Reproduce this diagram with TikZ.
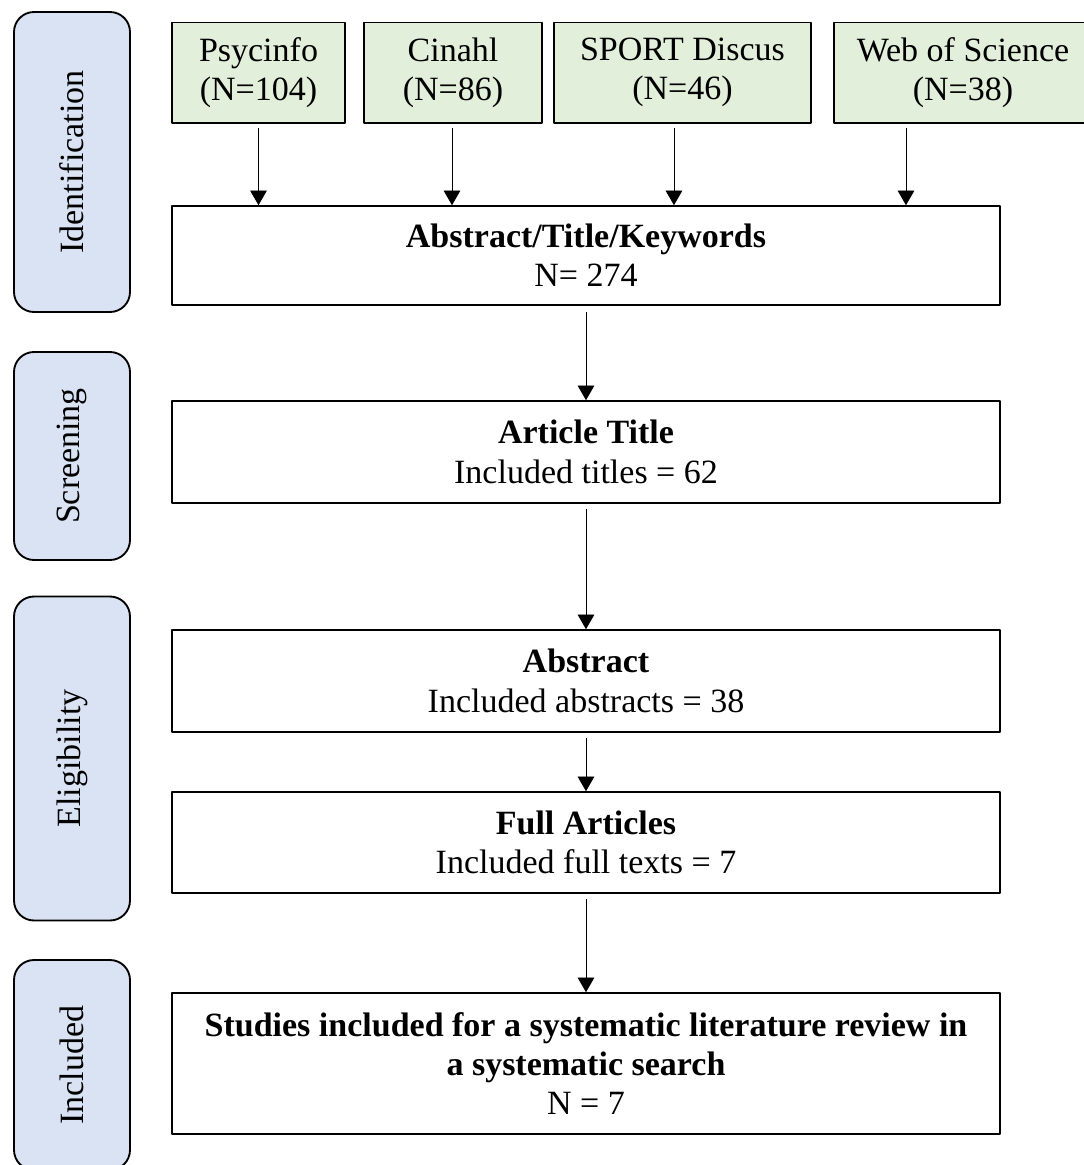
\documentclass[tikz,border=0pt]{standalone}
\usepackage{fontspec}
\setmainfont{Liberation Serif}
\usetikzlibrary{arrows.meta}
\definecolor{stageblue}{HTML}{DAE3F3}
\definecolor{srcgreen}{HTML}{E2EFDA}
\begin{document}
\begin{tikzpicture}[x=0.75pt,y=-0.75pt,line join=round,
	font=\fontsize{25.5}{29.5}\selectfont,
	stage/.style={draw,line width=1.4pt,fill=stageblue,rounded corners=15pt,rotate=90,minimum height=87pt,inner sep=0pt},
	src/.style={draw,line width=1pt,fill=srcgreen,minimum height=75.5pt,align=center,inner sep=0pt},
	stepbox/.style={draw,line width=1.2pt,minimum width=621pt,align=center,inner sep=0pt},
	arr/.style={-{Triangle[length=11pt,width=12.5pt]},line width=0.6pt,shorten <=3pt}]
		\useasboundingbox (0,0) rectangle (1083,1165);
		\node[stage,minimum width=225pt] (ident) at (72,162) {Identification};
		\node[stage,minimum width=156pt] (screen) at (72,456) {Screening};
		\node[stage,minimum width=243pt] (elig) at (72,758.5) {Eligibility};
		\node[stage,minimum width=157.5pt] (incl) at (72,1065) {Included};
		\node[src,minimum width=129.75pt] (psy) at (258.5,72.5) {Psycinfo\\(N=104)};
		\node[src,minimum width=133.5pt] (cin) at (453,72.5) {Cinahl\\(N=86)};
		\node[src,minimum width=192.75pt] (sport) at (682.5,72.5) {SPORT Discus\\(N=46)};
		\node[src,minimum width=193.5pt] (web) at (963,72.5) {Web of Science\\(N=38)};
		\node[stepbox,minimum height=74.25pt] (atk) at (586,255.5) {\textbf{Abstract/Title/Keywords}\\N= 274};
		\node[stepbox,minimum height=76.5pt] (title) at (586,452) {\textbf{Article Title}\\Included titles = 62};
		\node[stepbox,minimum height=76.5pt] (abstr) at (586,681) {\textbf{Abstract}\\Included abstracts = 38};
		\node[stepbox,minimum height=75.75pt] (full) at (586,842.5) {\textbf{Full Articles}\\Included full texts = 7};
		\node[stepbox,minimum height=105.75pt] (final) at (586,1063.5) {\textbf{Studies included for a systematic literature review in}\\\textbf{a systematic search}\\N = 7};
		\draw[arr] (psy.south) -- (psy.south |- atk.north);
		\draw[arr] ([xshift=-0.75pt]cin.south) -- ([xshift=-0.75pt]cin.south |- atk.north);
		\draw[arr] ([xshift=-6.4pt]sport.south) -- ([xshift=-6.4pt]sport.south |- atk.north);
		\draw[arr] ([xshift=-42.75pt]web.south) -- ([xshift=-42.75pt]web.south |- atk.north);
		\draw[arr,shorten <=5pt] (atk) -- (title);
		\draw[arr,shorten <=4pt] (title) -- (abstr);
		\draw[arr,shorten <=4pt] (abstr) -- (full);
		\draw[arr,shorten <=4pt] (full) -- (final);
\end{tikzpicture}
\end{document}
